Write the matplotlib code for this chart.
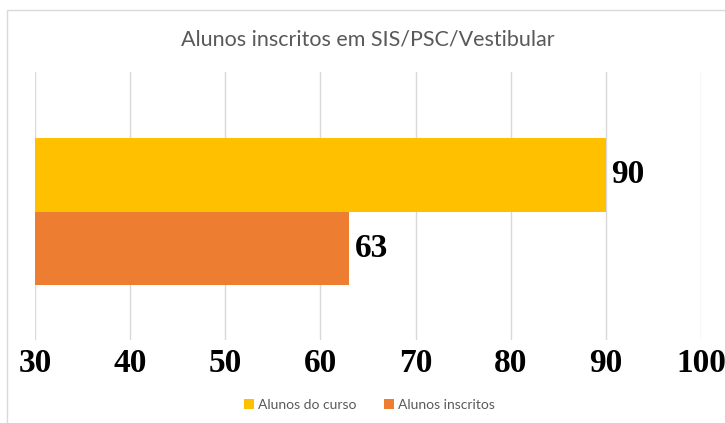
import matplotlib
matplotlib.use("Agg")
import matplotlib.pyplot as plt
from matplotlib.patches import Rectangle

# data
series = ["Alunos do curso", "Alunos inscritos"]
values = [90, 63]
colors = ["#FFC000", "#ED7D31"]
title = "Alunos inscritos em SIS/PSC/Vestibular"
ticks = [30, 40, 50, 60, 70, 80, 90, 100]

fig = plt.figure(figsize=(7.25, 4.23), dpi=100)
ax = fig.add_axes([35 / 725, 1 - 340 / 423, 666 / 725, 268 / 423])

# chart border (light gray frame)
fig.patches.append(Rectangle((7 / 725, -0.1), 1.2, (423 - 10) / 423 + 0.1,
                             transform=fig.transFigure, fill=False,
                             edgecolor="#D9D9D9", linewidth=1.0))

# yellow on top, orange below
ypos = [1, 0]
for y, v, c, name in zip(ypos, values, colors, series):
    ax.barh(y, v - 30, left=30, height=1.0, color=c, label=name, zorder=2)
    ax.text(v + 0.6, y, str(v), va="center", ha="left",
            family="Liberation Serif", fontweight="bold", fontsize=24, color="black")

ax.set_xlim(30, 100)
ax.set_ylim(-1.24, 2.39)
ax.set_xticks(ticks)
ax.set_xticklabels([str(t) for t in ticks], family="Liberation Serif",
                   fontweight="bold", fontsize=24, color="black")
ax.tick_params(axis="x", length=0, pad=6)
ax.set_yticks([])
ax.grid(axis="x", color="#D9D9D9", linewidth=1, zorder=0)
for s in ax.spines.values():
    s.set_visible(False)

fig.text(0.508, 1 - 40 / 423, title, ha="center", va="center",
         family="Lato", fontsize=15.5, color="#595959")

handles, labels = ax.get_legend_handles_labels()
fig.legend(handles, labels, loc="center", bbox_to_anchor=(0.51, 1 - 405 / 423),
           ncol=2, frameon=False, prop={"family": "Lato", "size": 10},
           labelcolor="#595959", handlelength=0.7, handleheight=0.7,
           handletextpad=0.3, columnspacing=2.0)

fig.savefig("out.png", dpi=100)
